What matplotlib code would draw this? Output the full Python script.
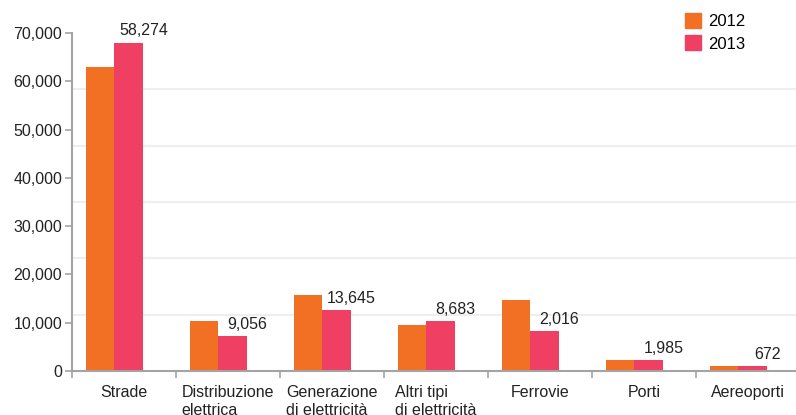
import numpy as np
import matplotlib
matplotlib.use('Agg')
import matplotlib.pyplot as plt
from matplotlib.ticker import FixedLocator, FuncFormatter
from matplotlib.patches import Patch

plt.rcParams['font.family'] = ['Liberation Sans', 'DejaVu Sans']

# dati
categorie = ['Strade', 'Distribuzione\nelettrica', 'Generazione\ndi elettricità',
             'Altri tipi\ndi elettricità', 'Ferrovie', 'Porti', 'Aereoporti']
valori_2012 = [63000, 10400, 15700, 9500, 14700, 2300, 1050]
valori_2013 = [68000, 7250, 12600, 10350, 8300, 2300, 1050]
etichette_2013 = ['58,274', '9,056', '13,645', '8,683', '2,016', '1,985', '672']
anni = ['2012', '2013']

col_2012 = '#F27023'
col_2013 = '#EF3F63'
grigio = '#A3A3A3'
testo = '#222222'

fig = plt.figure(figsize=(7.96, 4.15), dpi=100)
ax = fig.add_axes([72 / 796, 44 / 415, 728 / 796, 338 / 415])

x = np.arange(len(categorie))
w = 0.278
sx = -0.37  # le barre sono un po' spostate a sinistra

ax.bar(x + sx, valori_2012, width=w, align='edge', color=col_2012, zorder=2)
ax.bar(x + sx + w, valori_2013, width=w, align='edge', color=col_2013, zorder=2)

for i, lab in enumerate(etichette_2013):
    ax.annotate(lab, (x[i] + sx + 2 * w, valori_2013[i]), xytext=(0, 3),
                textcoords='offset points', ha='center', va='bottom',
                fontsize=11.5, color=testo)

ax.set_xlim(-0.5, len(categorie) - 0.5)
ax.set_ylim(0, 70000)

# assi
for s in ['top', 'right']:
    ax.spines[s].set_visible(False)
for s in ['left', 'bottom']:
    ax.spines[s].set_color(grigio)
    ax.spines[s].set_linewidth(1.5)

ax.yaxis.set_major_locator(FixedLocator(np.arange(0, 70001, 10000)))
ax.yaxis.set_major_formatter(FuncFormatter(lambda v, p: f'{int(v):,}'))
ax.tick_params(axis='y', length=5, width=1.2, color=grigio, labelsize=11.5,
               labelcolor=testo, pad=2)

# griglia a sesti della scala
ax.yaxis.set_minor_locator(FixedLocator(np.linspace(0, 70000, 7)))
ax.tick_params(axis='y', which='minor', length=0)
ax.grid(axis='y', which='minor', color='#EEEEEE', linewidth=1.5, zorder=0)

ax.xaxis.set_major_locator(FixedLocator(np.arange(len(categorie) + 1) - 0.5))
ax.xaxis.set_major_formatter(FuncFormatter(lambda v, p: ''))
ax.xaxis.set_minor_locator(FixedLocator(x))
ax.set_xticklabels(categorie, minor=True, fontsize=11.5, color=testo,
                   multialignment='left', va='top', linespacing=1.3)
ax.tick_params(axis='x', which='major', length=5, width=1.2, color=grigio)
ax.tick_params(axis='x', which='minor', length=0, pad=10)

handles = [Patch(color=col_2012, label=anni[0]), Patch(color=col_2013, label=anni[1])]
fig.legend(handles=handles, loc='upper left', bbox_to_anchor=(678 / 796, 1 - 6 / 415),
           frameon=False, fontsize=12, handlelength=1.0, handleheight=1.0,
           handletextpad=0.4, labelspacing=0.4, borderaxespad=0)

fig.savefig('out.png', dpi=100)
